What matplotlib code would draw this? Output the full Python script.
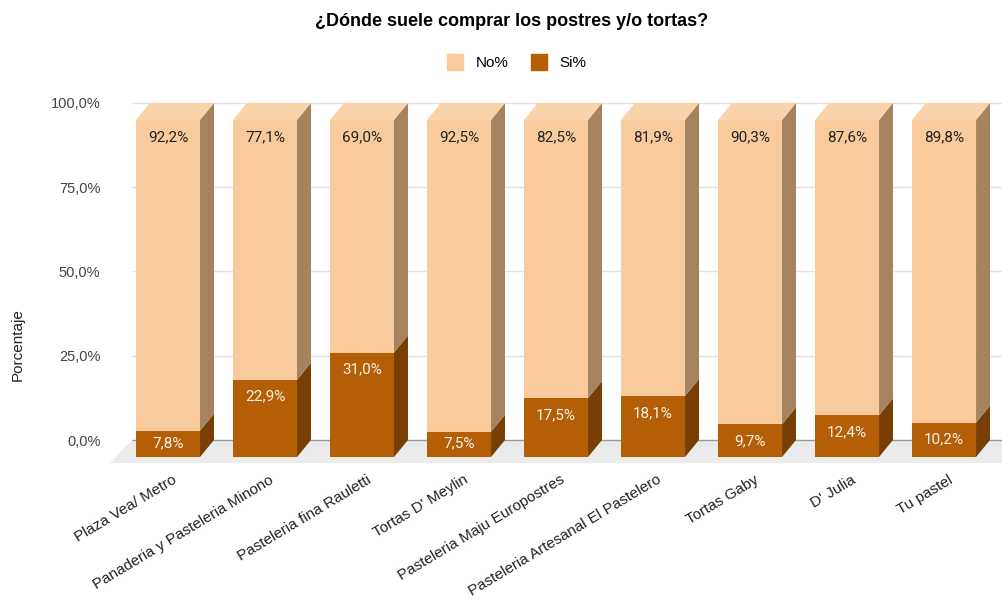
import matplotlib
matplotlib.use("Agg")
import matplotlib.pyplot as plt
from matplotlib.patches import Polygon
from matplotlib.lines import Line2D

# ---- data ----
categories = ["Plaza Vea/ Metro", "Panaderia y Pasteleria Minono", "Pasteleria fina Rauletti",
              "Tortas D' Meylin", "Pasteleria Maju Europostres", "Pasteleria Artesanal El Pastelero",
              "Tortas Gaby", "D' Julia", "Tu pastel"]
si_pct = [7.8, 22.9, 31.0, 7.5, 17.5, 18.1, 9.7, 12.4, 10.2]
no_pct = [92.2, 77.1, 69.0, 92.5, 82.5, 81.9, 90.3, 87.6, 89.8]
yticks = [0, 25, 50, 75, 100]
ytick_labels = ["0,0%", "25,0%", "50,0%", "75,0%", "100,0%"]
title = "¿Dónde suele comprar los postres y/o tortas?"
series_names = ["No%", "Si%"]

# ---- style ----
no_front, no_side, no_top = "#f9cb9c", "#a5835f", "#fad3aa"
si_front, si_side = "#b45f06", "#783f04"
grid_col, zero_col, floor_col = "#e2e2e2", "#9a9a9a", "#ebebeb"
FONT = "Liberation Sans"

W, H = 1003, 603
fig = plt.figure(figsize=(W / 100, H / 100), dpi=100)
ax = fig.add_axes([110 / W, (H - 470) / H, (W - 110) / W, (470 - 95) / H])
ax.set_xlim(-0.598, 8.608)
ax.set_ylim(-3.86, 107.4)
for s in ax.spines.values():
    s.set_visible(False)

bw = 0.66      # bar width (data units)
dx = 0.144     # depth offset x
dy = 5.04      # depth offset y
xs = list(range(len(categories)))

# floor
floor = Polygon([(-0.598, -1.8), (-0.371, dy), (8.608, dy), (8.608, -1.8)],
                closed=True, facecolor=floor_col, edgecolor="none", zorder=0)
ax.add_patch(floor)

# gridlines on back wall
for v in yticks:
    ax.hlines(v + dy, -0.371, 8.608, colors=zero_col if v == 0 else grid_col,
              linewidth=1.0, zorder=1)

def side(x, y0, y1, color):
    xr = x + bw / 2
    return Polygon([(xr, y0), (xr + dx, y0 + dy), (xr + dx, y1 + dy), (xr, y1)],
                   closed=True, facecolor=color, edgecolor="none", zorder=3)

ax.bar(xs, si_pct, width=bw, color=si_front, zorder=4, linewidth=0)
ax.bar(xs, no_pct, bottom=si_pct, width=bw, color=no_front, zorder=4, linewidth=0)

for x, s, n in zip(xs, si_pct, no_pct):
    ax.add_patch(side(x, 0, s, si_side))
    ax.add_patch(side(x, s, s + n, no_side))
    tot = s + n
    xl = x - bw / 2
    ax.add_patch(Polygon([(xl, tot), (xl + dx, tot + dy), (xl + bw + dx, tot + dy), (xl + bw, tot)],
                         closed=True, facecolor=no_top, edgecolor="none", zorder=3))
    ax.text(x, tot - 5.04, f"{n:.1f}%".replace(".", ","), ha="center", va="center",
            fontsize=11, color="#222222", family="Roboto", zorder=6)
    ax.text(x, max(s - 5.04, 4.15), f"{s:.1f}%".replace(".", ","), ha="center", va="center",
            fontsize=11, color="#f7f2ec", family="Roboto", zorder=6)

ax.set_yticks([v + dy for v in yticks])
ax.set_yticklabels(ytick_labels, fontsize=10.5, color="#444444", family=FONT)
ax.tick_params(axis="y", length=0, pad=7)
ax.set_xticks([x + 0.04 for x in xs])
ax.set_xticklabels(categories, rotation=31, ha="right", rotation_mode="anchor",
                   fontsize=11, color="#222222", family=FONT)
ax.tick_params(axis="x", length=0, pad=2)

fig.text(18 / W, 1 - 345 / H, "Porcentaje", rotation=90, ha="center", va="center",
         fontsize=11, color="#222222", family=FONT)
fig.text(512 / W, 1 - 22 / H, title, ha="center", va="center", fontsize=13,
         fontweight="bold", color="#000000", family=FONT)

handles = [Line2D([], [], marker="s", linestyle="none", markersize=11,
                  markerfacecolor=c, markeredgecolor=c) for c in (no_front, si_front)]
fig.legend(handles, series_names, loc="center", bbox_to_anchor=(513 / W, 1 - 63 / H),
           ncol=2, frameon=False, handletextpad=0.35, columnspacing=1.0,
           prop={"family": FONT, "size": 11})

fig.savefig("out.png", dpi=100)
